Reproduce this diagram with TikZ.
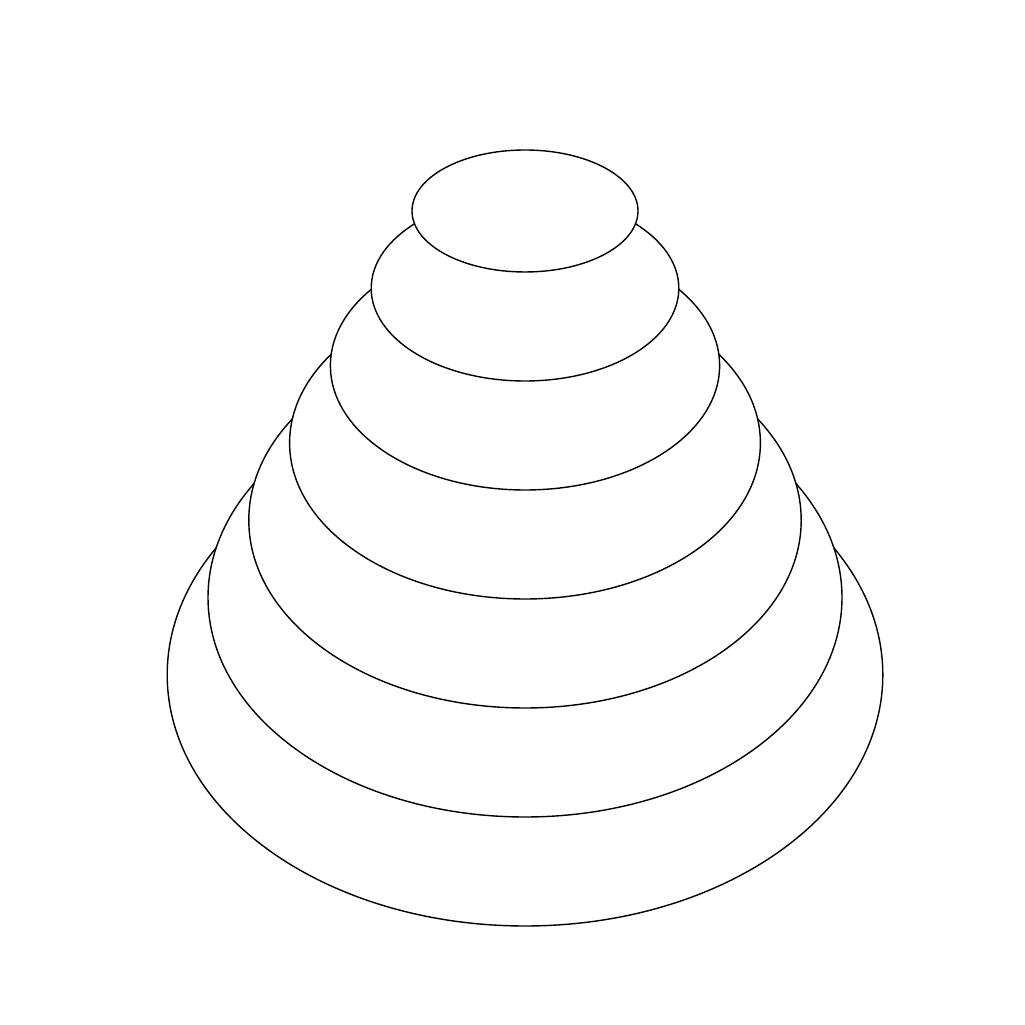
\documentclass[tikz,border=0pt]{standalone}
\usepackage{tikz}

\begin{document}
\begin{tikzpicture}[
    layer/.style={draw=black, fill=white, line width=0.4pt}
]
\useasboundingbox (0,0) rectangle (10.25,10.25);

% Stacked rings, largest first
\foreach \i in {6,5,...,0}{
    \pgfmathsetmacro{\rx}{1.13+0.408*\i}
    \pgfmathsetmacro{\ry}{0.61+0.317*\i}
    \pgfmathsetmacro{\cy}{(1025-211-77.3*\i)/100}
    \draw[layer] (5.25,\cy) ellipse [x radius=\rx, y radius=\ry];
}

\end{tikzpicture}
\end{document}
